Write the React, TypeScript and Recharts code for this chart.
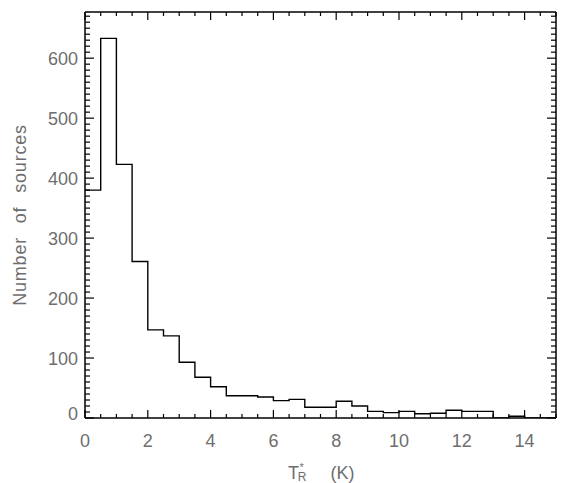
import {
  ComposedChart,
  Line,
  XAxis,
  YAxis,
} from "recharts";

// Histogram of T_R* in 0.5 K bins: left edge of each bin and its count.
// The last edge (15) closes the step line.
const BIN_EDGES = [
  0, 0.5, 1, 1.5, 2, 2.5, 3, 3.5, 4, 4.5, 5, 5.5, 6, 6.5, 7, 7.5, 8, 8.5, 9,
  9.5, 10, 10.5, 11, 11.5, 12, 12.5, 13, 13.5, 14, 14.5, 15,
];
const COUNTS = [
  380, 633, 423, 261, 147, 137, 93, 68, 52, 37, 37, 35, 29, 31, 18, 18, 28, 20,
  11, 9, 11, 7, 8, 13, 11, 11, 0, 3, 0, 0, 0,
];

const X_LABELS = [0, 2, 4, 6, 8, 10, 12, 14];
const Y_LABELS = [0, 100, 200, 300, 400, 500, 600];
const X_DOMAIN: [number, number] = [0, 15];
const Y_DOMAIN: [number, number] = [0, 677];

// minor ticks: every 0.5 on x, every 10 on y
const X_TICKS = BIN_EDGES;
const Y_TICKS = Array.from({ length: 68 }, (_, i) => i * 10);

const data = BIN_EDGES.map((x, i) => ({ x, n: COUNTS[i] }));

const INK = "#000";
const TXT = "#6e6e6e";
const FONT = "'Liberation Sans', Arial, sans-serif";

function BottomTick({ x, y, payload }: any) {
  const major = X_LABELS.includes(payload.value);
  return (
    <g>
      <line x1={x} x2={x} y1={y} y2={y - (major ? 8 : 4)} stroke={INK} strokeWidth={1.2} />
      {major && (
        <text x={x} y={y + 29} textAnchor="middle" fill={TXT} fontSize={18} fontFamily={FONT}>
          {payload.value}
        </text>
      )}
    </g>
  );
}

function TopTick({ x, y, payload }: any) {
  const major = X_LABELS.includes(payload.value);
  return <line x1={x} x2={x} y1={y} y2={y + (major ? 8 : 4)} stroke={INK} strokeWidth={1.2} />;
}

function LeftTick({ x, y, payload }: any) {
  const major = Y_LABELS.includes(payload.value);
  return (
    <g>
      <line x1={x} x2={x + (major ? 9 : 5)} y1={y} y2={y} stroke={INK} strokeWidth={1.2} />
      {major && (
        <text
          x={x - 7}
          y={y + (payload.value === 0 ? 1.5 : 6.5)}
          textAnchor="end"
          fill={TXT}
          fontSize={18}
          fontFamily={FONT}
        >
          {payload.value}
        </text>
      )}
    </g>
  );
}

function RightTick({ x, y, payload }: any) {
  const major = Y_LABELS.includes(payload.value);
  return <line x1={x} x2={x - (major ? 9 : 5)} y1={y} y2={y} stroke={INK} strokeWidth={1.2} />;
}

function XTitle({ viewBox }: any) {
  const cx = viewBox.x + viewBox.width / 2;
  return (
    <text x={cx - 32.5} y={479} fill={TXT} fontFamily={FONT} fontSize={18}>
      <tspan>T</tspan>
      <tspan dx={0.5} dy={-8} fontSize={11}>*</tspan>
      <tspan dx={-6} dy={10} fontSize={12}>R</tspan>
      <tspan x={cx + 10} y={479}>(K)</tspan>
    </text>
  );
}

function YTitle({ viewBox }: any) {
  const cy = viewBox.y + viewBox.height / 2;
  return (
    <text
      transform={`translate(26, ${cy}) rotate(-90)`}
      textAnchor="middle"
      fill={TXT}
      fontSize={18}
      fontFamily={FONT}
      letterSpacing={0.8}
      wordSpacing={8}
    >
      Number of sources
    </text>
  );
}

export default function App() {
  return (
    <div style={{ position: "absolute", left: 0, top: 0, width: 570, height: 483, background: "#fff" }}>
      <ComposedChart width={570} height={483} data={data} margin={{ top: 0, right: 0, bottom: 0, left: 0 }}>
        <XAxis
          xAxisId="b"
          dataKey="x"
          type="number"
          domain={X_DOMAIN}
          allowDataOverflow
          ticks={X_TICKS}
          interval={0}
          tickSize={0}
          tickMargin={0}
          tickLine={false}
          tick={BottomTick}
          height={65}
          axisLine={{ stroke: INK, strokeWidth: 1.5 }}
          label={{ content: XTitle }}
        />
        <XAxis
          xAxisId="t"
          orientation="top"
          dataKey="x"
          type="number"
          domain={X_DOMAIN}
          allowDataOverflow
          ticks={X_TICKS}
          interval={0}
          tickSize={0}
          tickMargin={0}
          tickLine={false}
          tick={TopTick}
          height={12}
          axisLine={{ stroke: INK, strokeWidth: 1.5 }}
        />
        <YAxis
          yAxisId="l"
          type="number"
          domain={Y_DOMAIN}
          allowDataOverflow
          ticks={Y_TICKS}
          interval={0}
          tickSize={0}
          tickMargin={0}
          tickLine={false}
          tick={LeftTick}
          width={85}
          axisLine={{ stroke: INK, strokeWidth: 1.5 }}
          label={{ content: YTitle }}
        />
        <YAxis
          yAxisId="r"
          orientation="right"
          type="number"
          domain={Y_DOMAIN}
          allowDataOverflow
          ticks={Y_TICKS}
          interval={0}
          tickSize={0}
          tickMargin={0}
          tickLine={false}
          tick={RightTick}
          width={14}
          axisLine={{ stroke: INK, strokeWidth: 1.5 }}
        />
        <Line
          xAxisId="t"
          yAxisId="r"
          dataKey="n"
          type="stepAfter"
          stroke="none"
          dot={false}
          activeDot={false}
          isAnimationActive={false}
        />
        <Line
          xAxisId="b"
          yAxisId="l"
          dataKey="n"
          type="stepAfter"
          stroke={INK}
          strokeWidth={1.4}
          dot={false}
          activeDot={false}
          isAnimationActive={false}
        />
      </ComposedChart>
    </div>
  );
}
